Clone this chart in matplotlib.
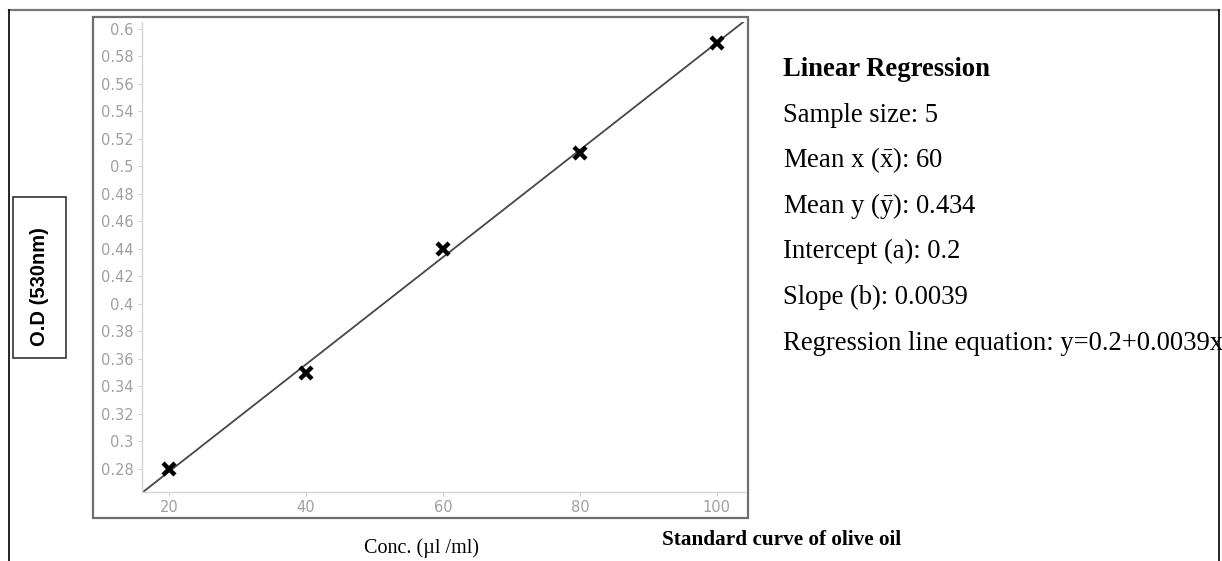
import matplotlib
matplotlib.use("Agg")
import matplotlib.pyplot as plt
from matplotlib.lines import Line2D
from matplotlib.patches import Rectangle

plt.rcParams["mathtext.fontset"] = "custom"
plt.rcParams["mathtext.rm"] = "Liberation Serif"
plt.rcParams["mathtext.it"] = "Liberation Serif:italic"

conc = [20, 40, 60, 80, 100]
od = [0.28, 0.35, 0.44, 0.51, 0.59]
intercept = 0.2
slope = 0.0039

y_ticks = [0.28, 0.30, 0.32, 0.34, 0.36, 0.38, 0.40, 0.42, 0.44, 0.46, 0.48,
           0.50, 0.52, 0.54, 0.56, 0.58, 0.60]
y_tick_labels = ["0.28", "0.3", "0.32", "0.34", "0.36", "0.38", "0.4", "0.42",
                 "0.44", "0.46", "0.48", "0.5", "0.52", "0.54", "0.56", "0.58", "0.6"]
x_ticks = [20, 40, 60, 80, 100]

stats_lines = [
    "Sample size: 5",
    r"Mean x ($\mathrm{\bar{x}}$): 60",
    r"Mean y ($\mathrm{\bar{y}}$): 0.434",
    "Intercept (a): 0.2",
    "Slope (b): 0.0039",
    "Regression line equation: y=0.2+0.0039x",
]

W, H = 1222, 561
fig = plt.figure(figsize=(W / 100, H / 100), dpi=100)


def fx(px):
    return px / W


def fy(py):
    return 1 - py / H


# outer frame (open at the bottom)
fig.add_artist(Line2D([fx(9), fx(1219)], [fy(10), fy(10)], color="#777777", lw=1.6))
fig.add_artist(Line2D([fx(9), fx(9)], [fy(10), 0], color="black", lw=1.2))
fig.add_artist(Line2D([fx(1219), fx(1219)], [fy(10), 0], color="black", lw=1.2))

# box round the plot
fig.add_artist(Rectangle((fx(93), fy(518)), fx(748) - fx(93), fy(17) - fy(518),
                         fill=False, edgecolor="#6e6e6e", lw=1.6))

ax = fig.add_axes([fx(142), fy(492), fx(745) - fx(142), fy(22) - fy(492)])
ax.set_xlim(16.06, 104.1)
ax.set_ylim(0.2632, 0.605)

xl = ax.get_xlim()
ax.plot(xl, [intercept + slope * v for v in xl], color="#474747", lw=1.3)
ax.plot(conc, od, linestyle="none", marker="x", markersize=8.5, mew=3.2, color="black")

for s in ["top", "right"]:
    ax.spines[s].set_visible(False)
for s in ["left", "bottom"]:
    ax.spines[s].set_color("#d4d4d4")
    ax.spines[s].set_linewidth(1.0)

ax.set_yticks(y_ticks)
ax.set_yticklabels(y_tick_labels)
ax.set_xticks(x_ticks)
ax.tick_params(colors="#d4d4d4", labelcolor="#a0a0a0", length=3, width=0.8,
               labelsize=10.5, pad=3)
for lab in ax.get_xticklabels() + ax.get_yticklabels():
    lab.set_family("DejaVu Sans")

# y label in its own box
fig.text(fx(39.5), fy(287), "O.D (530nm)", rotation=90, ha="center", va="center",
         family="Liberation Sans", weight="bold", fontsize=14.5)
fig.add_artist(Rectangle((fx(13), fy(358)), fx(66) - fx(13), fy(197) - fy(358),
                         fill=False, edgecolor="#333333", lw=1.2))

fig.text(fx(421), fy(548), "Conc. (\u00b5l /ml)", ha="center", va="center",
         family="Liberation Serif", fontsize=14.5)
fig.text(fx(782), fy(540), "Standard curve of olive oil", ha="center", va="center",
         family="Liberation Serif", weight="bold", fontsize=15.3)

# regression summary
fig.text(fx(783), fy(70), "Linear Regression", ha="left", va="center",
         family="Liberation Serif", weight="bold", fontsize=19.2)
for i, line in enumerate(stats_lines):
    fig.text(fx(783), fy(115 + i * 45.6), line, ha="left", va="center",
             family="Liberation Serif", fontsize=19.2)

fig.savefig("out.png", dpi=100)
